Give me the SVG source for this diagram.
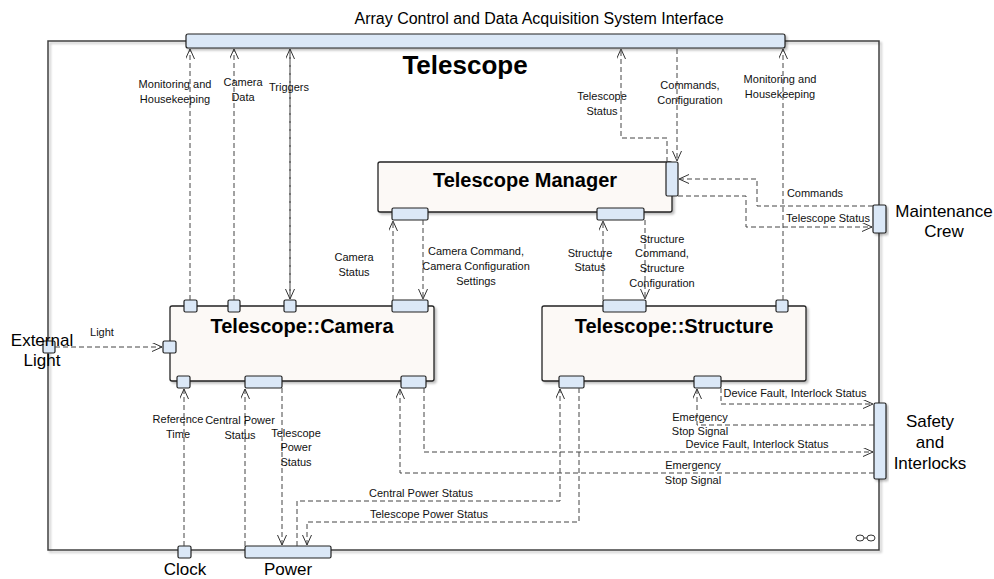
<svg xmlns="http://www.w3.org/2000/svg" width="994" height="579" viewBox="0 0 994 579">
<defs>
<style>
.frame{fill:none;stroke:#404040;stroke-width:1.5}
.box{fill:#fcf9f6;stroke:#222;stroke-width:1.3}
.port{fill:#dbe8f7;stroke:#222;stroke-width:1.2}
.c{fill:none;stroke:#444;stroke-width:1;stroke-dasharray:5 3}
.lbl{font-family:"Liberation Sans",Arial,sans-serif;font-size:11px;fill:#111;text-anchor:middle}
.ttl{font-family:"Liberation Sans",Arial,sans-serif;font-weight:bold;font-size:20px;fill:#000;text-anchor:middle}
.ext{font-family:"Liberation Sans",Arial,sans-serif;font-size:17px;fill:#000;text-anchor:middle}
</style>
<marker id="a" markerUnits="userSpaceOnUse" markerWidth="12" markerHeight="10" refX="10" refY="4.5" orient="auto">
<path d="M0,0 L10,4.5 L0,9" fill="none" stroke="#333" stroke-width="1"/>
</marker>
<filter id="sh" x="-10%" y="-10%" width="130%" height="140%">
<feDropShadow dx="2" dy="2" stdDeviation="1" flood-color="#000" flood-opacity="0.25"/>
</filter>
</defs>
<rect width="994" height="579" fill="#fff"/>

<g id="telescope">
<rect class="frame" x="48" y="41" width="831" height="509" filter="url(#sh)"/>
<text x="465" y="74" font-family="Liberation Sans,Arial,sans-serif" font-weight="bold" font-size="26" text-anchor="middle">Telescope</text>
<g transform="translate(860,538)" fill="none" stroke="#333" stroke-width="1">
<ellipse cx="0" cy="0" rx="4" ry="3"/><ellipse cx="11" cy="0" rx="4" ry="3"/><line x1="4" y1="0" x2="7" y2="0"/>
</g>
</g>

<g id="acads">
<rect class="port" x="186" y="34" width="599" height="14" rx="2" filter="url(#sh)"/>
<text x="539" y="24" font-family="Liberation Sans,Arial,sans-serif" font-size="16" text-anchor="middle">Array Control and Data Acquisition System Interface</text>
</g>

<g id="manager">
<rect class="box" x="378" y="162" width="294" height="50" rx="2" filter="url(#sh)"/>
<text class="ttl" x="525" y="187">Telescope Manager</text>
<rect class="port" x="666" y="162" width="12" height="34" rx="1.5"/>
<rect class="port" x="392" y="208" width="36" height="12" rx="1.5"/>
<rect class="port" x="597" y="208" width="47" height="12" rx="1.5"/>
</g>

<g id="camera">
<rect class="box" x="170" y="306" width="264" height="75" rx="2" filter="url(#sh)"/>
<text class="ttl" x="302" y="333">Telescope::Camera</text>
<rect class="port" x="184" y="300" width="13" height="12" rx="1.5"/>
<rect class="port" x="228" y="300" width="12" height="12" rx="1.5"/>
<rect class="port" x="284" y="300" width="12" height="12" rx="1.5"/>
<rect class="port" x="392" y="300" width="36" height="12" rx="1.5"/>
<rect class="port" x="163" y="341" width="13" height="12" rx="1.5"/>
<rect class="port" x="177" y="376" width="13" height="12" rx="1.5"/>
<rect class="port" x="245" y="376" width="37" height="12" rx="1.5"/>
<rect class="port" x="401" y="376" width="25" height="12" rx="1.5"/>
</g>

<g id="structure">
<rect class="box" x="542" y="306" width="264" height="75" rx="2" filter="url(#sh)"/>
<text class="ttl" x="674" y="333">Telescope::Structure</text>
<rect class="port" x="603" y="300" width="43" height="12" rx="1.5"/>
<rect class="port" x="776" y="300" width="12" height="12" rx="1.5"/>
<rect class="port" x="559" y="376" width="25" height="12" rx="1.5"/>
<rect class="port" x="694" y="376" width="27" height="12" rx="1.5"/>
</g>

<g id="maintenance">
<rect class="port" x="873" y="205" width="13" height="28" rx="1.5" filter="url(#sh)"/>
<text class="ext" x="944" y="217">Maintenance</text>
<text class="ext" x="944" y="237">Crew</text>
</g>

<g id="safety">
<rect class="port" x="874" y="403" width="12" height="76" rx="1.5" filter="url(#sh)"/>
<text class="ext" x="930" y="427">Safety</text>
<text class="ext" x="930" y="448">and</text>
<text class="ext" x="930" y="469">Interlocks</text>
</g>

<g id="external-light">
<rect class="port" x="43" y="341" width="12" height="12" rx="1.5"/>
<text class="ext" x="42" y="346">External</text>
<text class="ext" x="42" y="366">Light</text>
</g>

<g id="clock">
<rect class="port" x="178" y="546" width="13" height="12" rx="1.5"/>
<text class="ext" x="185" y="575">Clock</text>
</g>

<g id="power">
<rect class="port" x="245" y="546" width="86" height="12" rx="1.5"/>
<text class="ext" x="288" y="575">Power</text>
</g>

<g id="connectors">
<path class="c" d="M190,300 V49" marker-end="url(#a)"/>
<path class="c" d="M234,300 V49" marker-end="url(#a)"/>
<path class="c" d="M290,49 V299" marker-end="url(#a)"/>
<path class="c" d="M290,299 V49" marker-end="url(#a)"/>
<path class="c" d="M667,162 V138 H621 V49" marker-end="url(#a)"/>
<path class="c" d="M677,49 V161" marker-end="url(#a)"/>
<path class="c" d="M783,300 V49" marker-end="url(#a)"/>
<path class="c" d="M873,206 H757 V179 H679" marker-end="url(#a)"/>
<path class="c" d="M678,196 H746 V227 H872" marker-end="url(#a)"/>
<path class="c" d="M393,300 V221" marker-end="url(#a)"/>
<path class="c" d="M423,220 V299" marker-end="url(#a)"/>
<path class="c" d="M603,300 V221" marker-end="url(#a)"/>
<path class="c" d="M645,220 V299" marker-end="url(#a)"/>
<path class="c" d="M55,347 H162" marker-end="url(#a)"/>
<path class="c" d="M184,546 V389" marker-end="url(#a)"/>
<path class="c" d="M245,546 V389" marker-end="url(#a)"/>
<path class="c" d="M282,388 V545" marker-end="url(#a)"/>
<path class="c" d="M297,546 V501 H560 V389" marker-end="url(#a)"/>
<path class="c" d="M579,388 V522 H307 V545" marker-end="url(#a)"/>
<path class="c" d="M721,388 V404 H873" marker-end="url(#a)"/>
<path class="c" d="M874,425 H697 V389" marker-end="url(#a)"/>
<path class="c" d="M424,388 V452 H873" marker-end="url(#a)"/>
<path class="c" d="M874,473 H400 V389" marker-end="url(#a)"/>

<text class="lbl" x="175" y="88">Monitoring and</text>
<text class="lbl" x="175" y="103">Housekeeping</text>
<text class="lbl" x="243" y="86">Camera</text>
<text class="lbl" x="243" y="101">Data</text>
<text class="lbl" x="289" y="91">Triggers</text>
<text class="lbl" x="602" y="100">Telescope</text>
<text class="lbl" x="602" y="115">Status</text>
<text class="lbl" x="690" y="89">Commands,</text>
<text class="lbl" x="690" y="104">Configuration</text>
<text class="lbl" x="780" y="83">Monitoring and</text>
<text class="lbl" x="780" y="98">Housekeeping</text>
<text class="lbl" x="815" y="197">Commands</text>
<text class="lbl" x="828" y="222">Telescope Status</text>
<text class="lbl" x="354" y="261">Camera</text>
<text class="lbl" x="354" y="276">Status</text>
<text class="lbl" x="476" y="255">Camera Command,</text>
<text class="lbl" x="476" y="270">Camera Configuration</text>
<text class="lbl" x="476" y="285">Settings</text>
<text class="lbl" x="590" y="257">Structure</text>
<text class="lbl" x="590" y="271">Status</text>
<text class="lbl" x="662" y="243">Structure</text>
<text class="lbl" x="662" y="257">Command,</text>
<text class="lbl" x="662" y="272">Structure</text>
<text class="lbl" x="662" y="287">Configuration</text>
<text class="lbl" x="102" y="336">Light</text>
<text class="lbl" x="178" y="423">Reference</text>
<text class="lbl" x="178" y="438">Time</text>
<text class="lbl" x="240" y="424">Central Power</text>
<text class="lbl" x="240" y="439">Status</text>
<text class="lbl" x="296" y="437">Telescope</text>
<text class="lbl" x="296" y="451">Power</text>
<text class="lbl" x="296" y="466">Status</text>
<text class="lbl" x="421" y="497">Central Power Status</text>
<text class="lbl" x="429" y="518">Telescope Power Status</text>
<text class="lbl" x="795" y="397">Device Fault, Interlock Status</text>
<text class="lbl" x="700" y="421">Emergency</text>
<text class="lbl" x="700" y="435">Stop Signal</text>
<text class="lbl" x="757" y="448">Device Fault, Interlock Status</text>
<text class="lbl" x="693" y="469">Emergency</text>
<text class="lbl" x="693" y="484">Stop Signal</text>
</g>
</svg>
